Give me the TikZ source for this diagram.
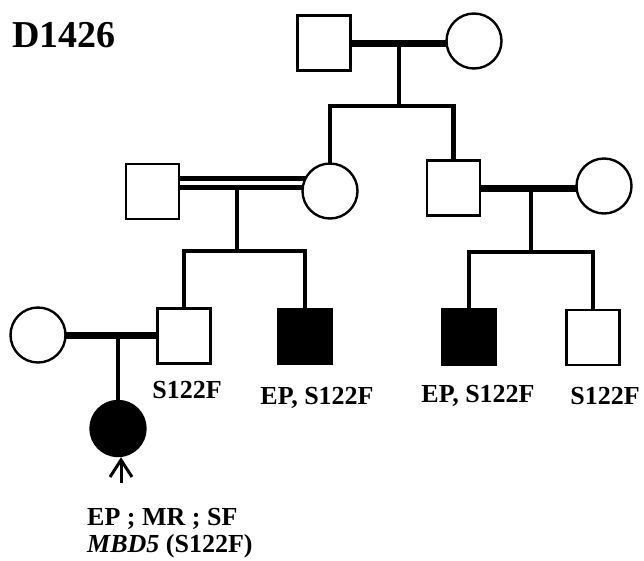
\documentclass[tikz,border=0pt]{standalone}
\usepackage{fontspec}
\setmainfont{Liberation Serif}
\usetikzlibrary{backgrounds,arrows.meta}
\begin{document}
\begin{tikzpicture}[x=1pt,y=-1pt,
  male/.style={draw=black,line width=2.7pt,fill=white,rectangle,minimum width=53pt,minimum height=55pt,inner sep=0pt},
  female/.style={draw=black,line width=2.4pt,fill=white,circle,minimum size=55pt,inner sep=0pt},
  aff/.style={fill=black},
  mar/.style={line width=7pt},
  dbl/.style={line width=4.5pt},
  sib/.style={line width=4.5pt,line join=miter},
  lbl/.style={font=\fontsize{26}{28}\selectfont\bfseries,inner sep=0pt,anchor=base}]
\useasboundingbox (0,0) rectangle (644,560);
% generation I
\node[male] (gf) at (324,43) {};
\node[female] (gm) at (474,41) {};
% generation II
\node[male] (s1) at (152.5,191.5) {};
\node[female] (c1) at (330,191) {};
\node[male] (s2) at (453.5,188) {};
\node[female] (c2) at (604,186) {};
% generation III
\node[female] (c3) at (38,335) {};
\node[male] (s3) at (184,336) {};
\node[male,aff] (f1) at (305,336.5) {};
\node[male,aff] (f2) at (469,337) {};
\node[male] (s4) at (593,337.5) {};
% generation IV
\node[female,aff] (pb) at (118,428.5) {};
% coordinates
\coordinate (m1) at (399,43);
\coordinate (sib1) at (399,106);
\coordinate (m2) at (237,187.5);
\coordinate (sib2) at (237,251);
\coordinate (m3) at (531,188);
\coordinate (sib3) at (531,252);
\coordinate (m4) at (118,335);
\coordinate (arr) at (121,483);
\begin{scope}[on background layer]
\draw[mar] (gf.center) -- (gf.center -| gm.center);
\draw[sib] (m1) -- (sib1);
\draw[sib] (c1.center) |- (s2.center |- sib1) -- (s2.center);
\draw[dbl] ([yshift=13pt]s1.center) -- ([yshift=13pt]s1.center -| c1.center);
\draw[dbl] ([yshift=4pt]s1.center) -- ([yshift=4pt]s1.center -| c1.center);
\draw[sib] (m2) -- (sib2);
\draw[sib] (s3.center) |- (f1.center |- sib2) -- (f1.center);
\draw[mar] (s2.center) -- (s2.center -| c2.center);
\draw[sib] (m3) -- (sib3);
\draw[sib] (f2.center) |- (s4.center |- sib3) -- (s4.center);
\draw[mar] (c3.center) -- (c3.center -| s3.center);
\draw[sib] (m4) -- (pb.center);
\end{scope}
\draw[line width=3pt,-{Straight Barb[length=17pt,width=22pt,line width=3pt]}] (arr) -- (arr |- pb.south);
% labels
\node[font=\fontsize{38}{40}\selectfont\bfseries,inner sep=0pt,anchor=base west] (title) at (12,47) {D1426};
\node[lbl] (l1) at (187,398) {S122F};
\node[lbl] (l2) at (317,404) {EP, S122F};
\node[lbl] (l3) at (478,402) {EP, S122F};
\node[lbl] (l4) at (605,404) {S122F};
\node[lbl,anchor=base west] (l5) at (87,525) {EP ; MR ; SF};
\node[lbl,anchor=base west] (l6) at (87,552) {\itshape MBD5\upshape{} (S122F)};
\end{tikzpicture}
\end{document}
